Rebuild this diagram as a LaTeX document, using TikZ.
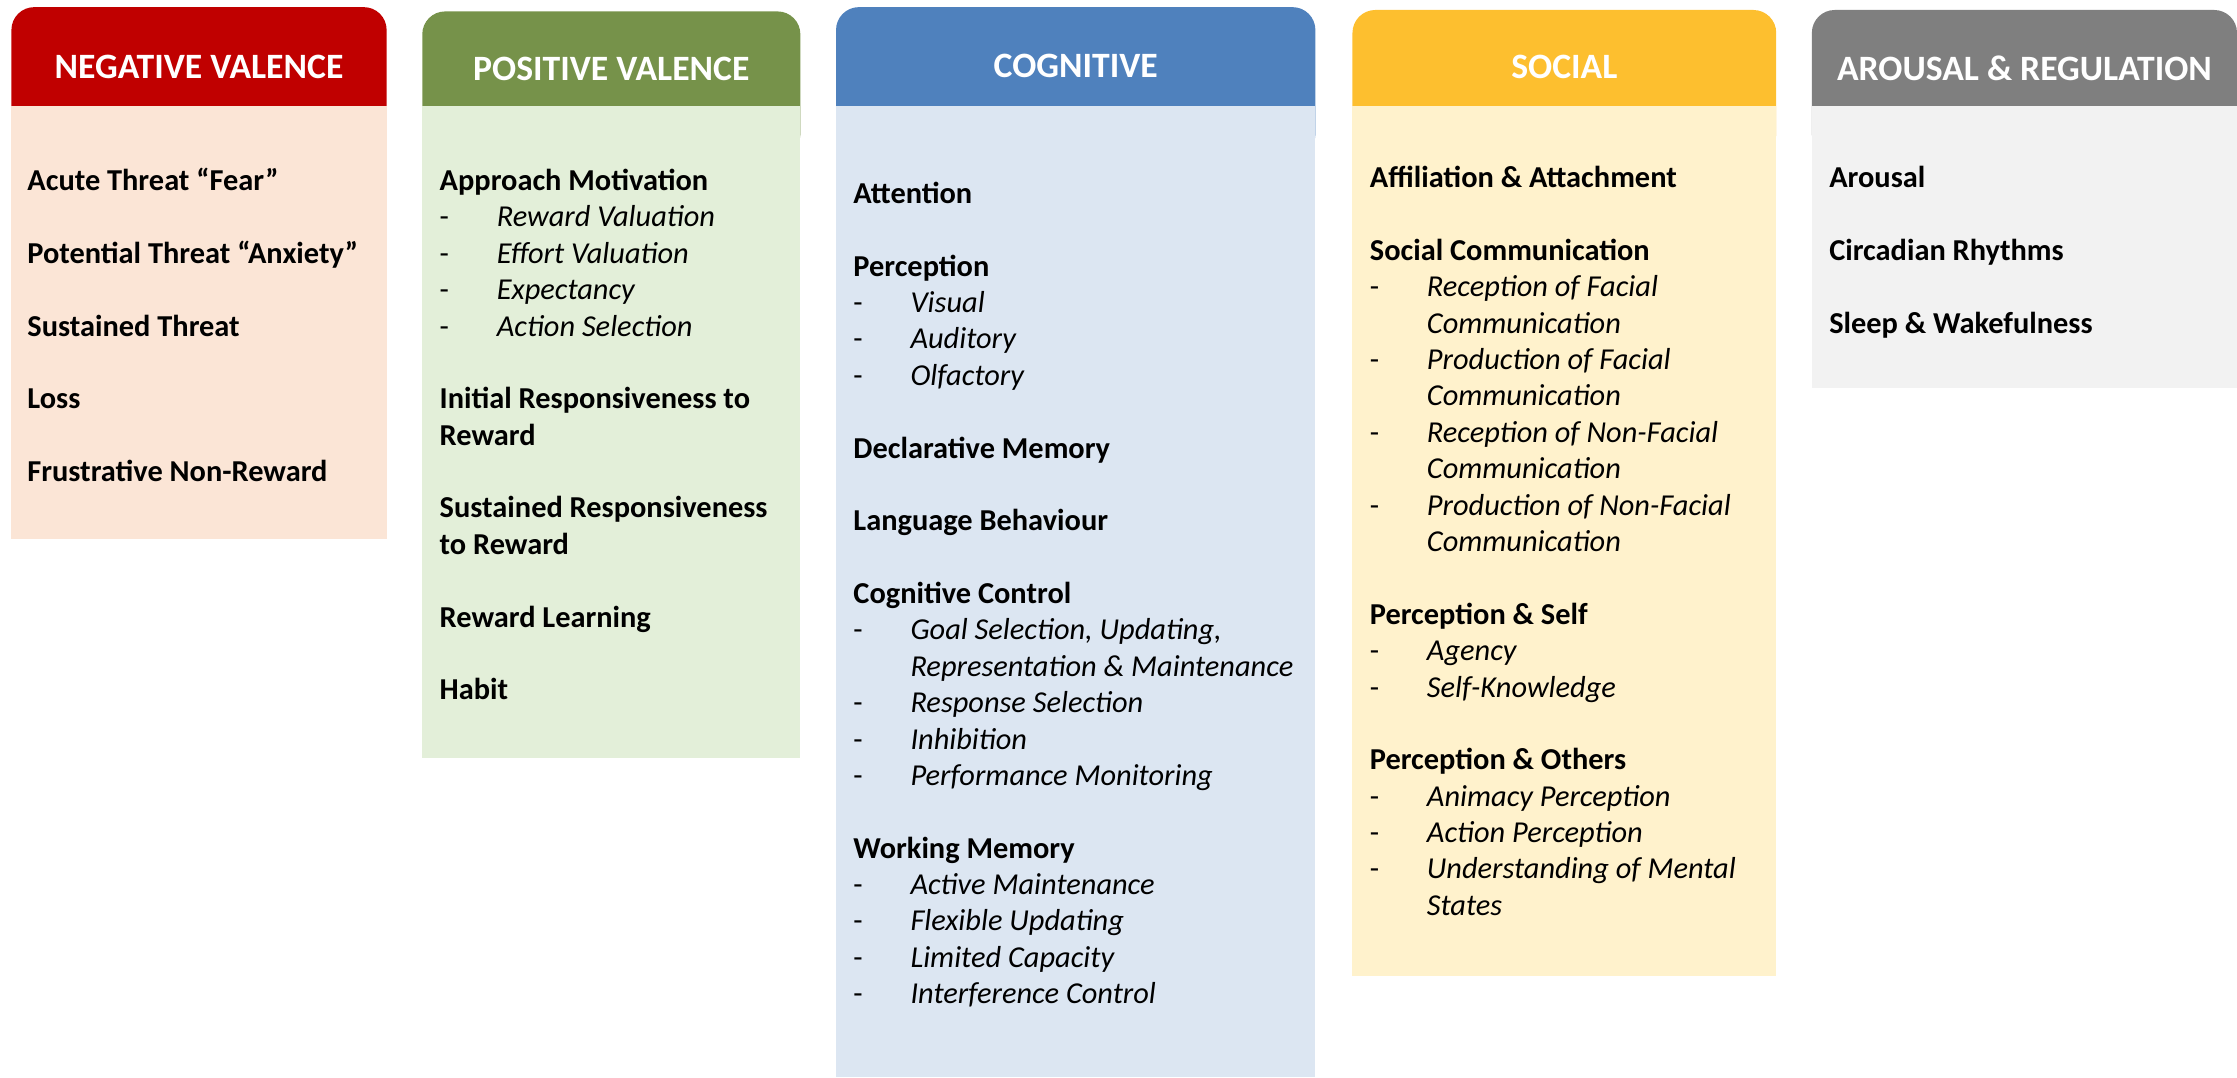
\documentclass[tikz,border=0pt]{standalone}
\usepackage{fontspec}
\setmainfont{Carlito}
\definecolor{negdark}{HTML}{C00000}
\definecolor{neglight}{HTML}{FBE5D6}
\definecolor{posdark}{HTML}{76924A}
\definecolor{poslight}{HTML}{E3EFD9}
\definecolor{cogdark}{HTML}{4F81BD}
\definecolor{coglight}{HTML}{DCE6F2}
\definecolor{socdark}{HTML}{FDBF2F}
\definecolor{soclight}{HTML}{FFF2CC}
\definecolor{arodark}{HTML}{7F7F7F}
\definecolor{arolight}{HTML}{F2F2F2}
\tikzset{
  headbox/.style={rounded corners=16pt},
  headtext/.style={text=white, inner sep=0pt, font=\bfseries\fontsize{25}{29}\selectfont},
  bodytext/.style={anchor=north west, inner sep=0pt, align=left, font=\bfseries\fontsize{21.3}{25.5}\selectfont},
}
\newcommand{\facet}[1]{\makebox[40pt][l]{\mdseries -}{\mdseries\itshape #1}}
\newcommand{\facetmore}[1]{\hspace*{40pt}{\mdseries\itshape #1}}
\newcommand{\gap}{\\[25.5pt]}
\begin{document}
\begin{tikzpicture}[x=1pt,y=-1pt]
    \useasboundingbox (0,0) rectangle (1568,755);
    % negative valence
    \fill[negdark,headbox] (8,5) rectangle (271,110);
    \fill[neglight] (8,74) rectangle (271,378);
    \node[headtext] (neghead) at (139.5,47) {NEGATIVE VALENCE};
    \node[bodytext] (negbody) at (19,115.5) {\strut Acute Threat “Fear”\gap
        Potential Threat “Anxiety”\gap Sustained Threat\gap Loss\gap
        Frustrative Non-Reward};
    % positive valence
    \fill[posdark,headbox] (296,8) rectangle (561,110);
    \fill[poslight] (296,74) rectangle (561,531);
    \node[headtext] (poshead) at (428.5,48) {POSITIVE VALENCE};
    \node[bodytext] (posbody) at (308,115.5) {\strut Approach Motivation\\
        \facet{Reward Valuation}\\ \facet{Effort Valuation}\\
        \facet{Expectancy}\\ \facet{Action Selection}\gap
        Initial Responsiveness to\\ Reward\gap
        Sustained Responsiveness\\ to Reward\gap
        Reward Learning\gap Habit};
    % cognitive
    \fill[cogdark,headbox] (586,5) rectangle (922,110);
    \fill[coglight] (586,74) rectangle (922,755);
    \node[headtext] (coghead) at (754,46) {COGNITIVE};
    \node[bodytext] (cogbody) at (598,124.5) {\strut Attention\gap
        Perception\\ \facet{Visual}\\ \facet{Auditory}\\ \facet{Olfactory}\gap
        Declarative Memory\gap Language Behaviour\gap
        Cognitive Control\\ \facet{Goal Selection, Updating,}\\
        \facetmore{Representation \& Maintenance}\\
        \facet{Response Selection}\\ \facet{Inhibition}\\
        \facet{Performance Monitoring}\gap
        Working Memory\\ \facet{Active Maintenance}\\
        \facet{Flexible Updating}\\ \facet{Limited Capacity}\\
        \facet{Interference Control}};
    % social
    \fill[socdark,headbox] (948,7) rectangle (1245,110);
    \fill[soclight] (948,74) rectangle (1245,684);
    \node[headtext] (sochead) at (1096.5,47) {SOCIAL};
    \node[bodytext] (socbody) at (960,113.5) {\strut Affiliation \& Attachment\gap
        Social Communication\\
        \facet{Reception of Facial}\\ \facetmore{Communication}\\
        \facet{Production of Facial}\\ \facetmore{Communication}\\
        \facet{Reception of Non-Facial}\\ \facetmore{Communication}\\
        \facet{Production of Non-Facial}\\ \facetmore{Communication}\gap
        Perception \& Self\\ \facet{Agency}\\ \facet{Self-Knowledge}\gap
        Perception \& Others\\ \facet{Animacy Perception}\\
        \facet{Action Perception}\\ \facet{Understanding of Mental}\\
        \facetmore{States}};
    % arousal and regulation
    \fill[arodark,headbox] (1270,7) rectangle (1568,110);
    \fill[arolight] (1270,74) rectangle (1568,272);
    \node[headtext] (arohead) at (1419,48) {AROUSAL \& REGULATION};
    \node[bodytext] (arobody) at (1282,113.5) {\strut Arousal\gap
        Circadian Rhythms\gap Sleep \& Wakefulness};
\end{tikzpicture}
\end{document}
